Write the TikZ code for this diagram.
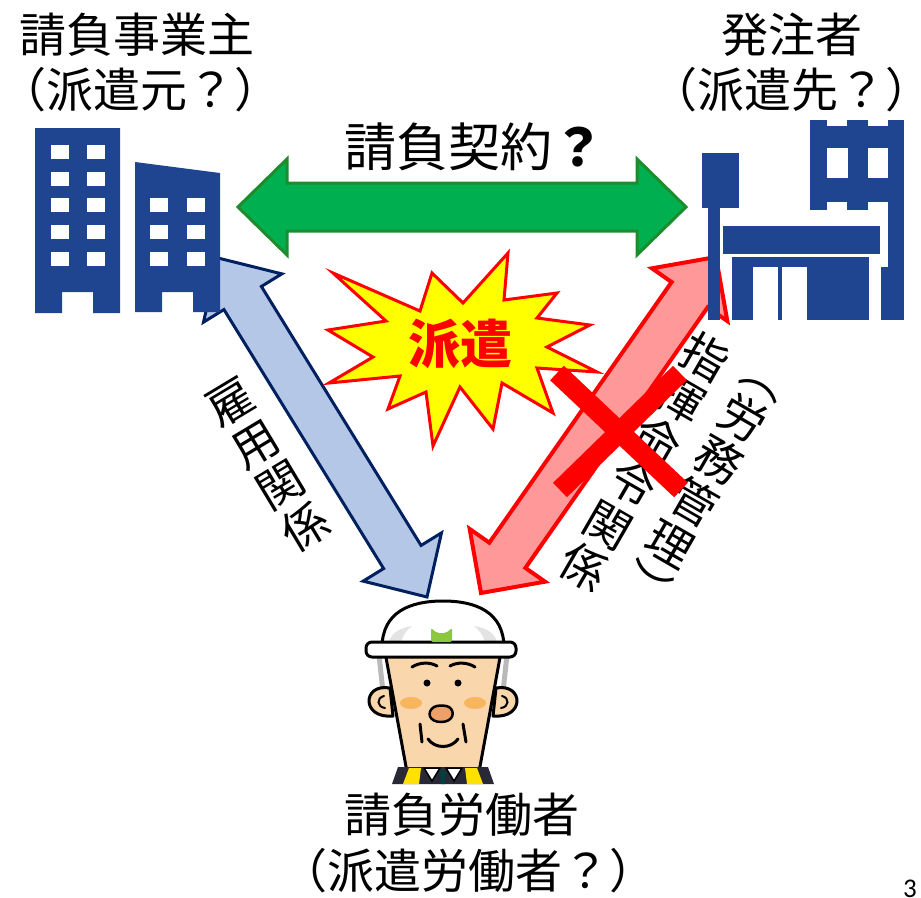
\documentclass[tikz,border=0pt]{standalone}
\usepackage{fontspec}
\usetikzlibrary{calc}
\newfontfamily\jp{Noto Sans CJK JP}
\newfontfamily\numfont{Carlito}

\definecolor{bldgblue}{RGB}{31,69,145}
\definecolor{arrowgreen}{RGB}{0,176,80}
\definecolor{arrowgreenline}{RGB}{30,140,45}
\definecolor{paleblue}{RGB}{180,199,231}
\definecolor{navyline}{RGB}{0,32,96}
\definecolor{palered}{RGB}{255,153,153}
\definecolor{burstyellow}{RGB}{255,255,0}
\definecolor{skin}{RGB}{250,214,172}
\definecolor{blush}{RGB}{246,168,60}
\definecolor{nosecol}{RGB}{238,160,105}
\definecolor{logogreen}{RGB}{141,198,63}
\definecolor{vest}{RGB}{255,225,0}
\definecolor{jacket}{RGB}{40,40,55}

% double block arrow between two named points:
% #1 style, #2 from, #3 to, #4 head length, #5 head half-width, #6 shaft half-width
\newcommand\blockarrow[6]{%
  \coordinate (ba-s) at ($(#2)!#4!(#3)$);
  \coordinate (ba-e) at ($(#3)!#4!(#2)$);
  \draw[#1] (#2)
    -- ($(ba-s)!#5!-90:(#3)$) -- ($(ba-s)!#6!-90:(#3)$)
    -- ($(ba-e)!#6!90:(#2)$) -- ($(ba-e)!#5!90:(#2)$)
    -- (#3)
    -- ($(ba-e)!#5!-90:(#2)$) -- ($(ba-e)!#6!-90:(#2)$)
    -- ($(ba-s)!#6!90:(#3)$) -- ($(ba-s)!#5!90:(#3)$)
    -- cycle;
}

\begin{document}
\begin{tikzpicture}[x=1pt,y=-1pt,
  bldg/.style={fill=bldgblue},
  win/.style={fill=white},
  label47/.style={font={\jp\fontsize{47}{55}\selectfont}, inner sep=0pt},
  vertlabel/.style={font={\jp\fontsize{46}{48.5}\selectfont}, align=center, inner sep=0pt},
  greenarrow/.style={fill=arrowgreen, draw=arrowgreenline, line width=3pt, line join=miter},
  bluearrow/.style={fill=paleblue, draw=navyline, line width=3pt, line join=miter},
  redarrow/.style={fill=palered, draw=red, line width=4pt, line join=miter},
  outl/.style={draw=black, line width=3pt, line join=round, line cap=round},
  ]
\useasboundingbox (0,0) rectangle (921,897);

% ---- arrow end points ----
\coordinate (conL) at (238,207);
\coordinate (conR) at (686,207);
\coordinate (empTop) at (218,258);
\coordinate (empBot) at (427,597);
\coordinate (cmdTop) at (716,257);
\coordinate (cmdBot) at (481,593);

% ---- relationship arrows ----
\blockarrow{greenarrow}{conL}{conR}{49pt}{48pt}{24pt}
\blockarrow{bluearrow}{empTop}{empBot}{47pt}{46pt}{22pt}
\blockarrow{redarrow}{cmdTop}{cmdBot}{46pt}{46pt}{22pt}

% ---- contractor office (two towers) ----
\fill[bldg] (35,128) -- (120,128) -- (120,313) -- (93,313) -- (93,292)
  -- (62,292) -- (62,313) -- (35,313) -- cycle;
\foreach \y in {145,172,198,225,252} {
  \fill[win] (51,\y) rectangle (69,\y+14);
  \fill[win] (87,\y) rectangle (105,\y+14);
}
\fill[bldg] (135,162) -- (220,173) -- (220,312) -- (193,312) -- (193,292)
  -- (162,292) -- (162,312) -- (135,312) -- cycle;
\foreach \y in {198,225,252} {
  \fill[win] (150,\y) rectangle (168,\y+14);
  \fill[win] (187,\y) rectangle (205,\y+14);
}

% ---- client site (shop with sign and tower) ----
\fill[bldg] (810,120) rectangle (904,210);
\fill[win] (827,120) rectangle (847,126);
\fill[win] (868,120) rectangle (888,126);
\fill[win] (827,202) rectangle (847,211);
\fill[win] (868,202) rectangle (888,211);
\fill[win] (827,148) rectangle (848,178);
\fill[win] (868,148) rectangle (888,178);
\fill[bldg] (888,209) rectangle (904,268);
\fill[bldg] (881,267) rectangle (904,320);
\fill[bldg] (702,153) rectangle (739,208);
\fill[bldg] (708,207) rectangle (720,320);
\fill[bldg] (723,226) rectangle (880,254);
\fill[bldg] (732,257) rectangle (869,320);
\fill[win] (753,267) rectangle (778,321);
\fill[win] (782,267) rectangle (807,321);

% ---- burst ----
\draw[fill=burstyellow, draw=red, line width=3pt, line join=miter]
  (333,273) -- (420,311) -- (432,273) -- (463,303) -- (508,253) -- (504,300)
  -- (557,293) -- (537,318) -- (590,325) -- (547,347) -- (597,372) -- (537,368)
  -- (553,413) -- (502,383) -- (493,429) -- (460,387) -- (433,446) -- (426,392)
  -- (388,409) -- (400,376) -- (329,383) -- (373,357) -- (328,330) -- (386,321)
  -- cycle;
\node[font={\jp\bfseries\fontsize{52}{60}\selectfont}, text=red, inner sep=0pt]
  (haken) at (460,344) {派遣};

% ---- titles ----
\node[label47] (empName) at (137,35) {請負事業主};
\node[label47] (empNote) at (140,90) {（派遣元？）};
\node[label47] (cliName) at (792,35) {発注者};
\node[label47] (cliNote) at (791,90) {（派遣先？）};
\node[font={\jp\fontsize{52}{60}\selectfont}, inner sep=0pt]
  (contract) at (474,147) {請負契約{\bfseries ？}};
\node[label47] (wkName) at (462,815) {請負労働者};
\node[label47] (wkNote) at (468,871) {（派遣労働者？）};

% ---- arrow labels (vertical writing) ----
\node[vertlabel, rotate=31] (empRel) at (268,465) {雇\\用\\関\\係};
\node[vertlabel, rotate=-30] (cmdRel) at (645,462) {指\\揮\\命\\令\\関\\係};
\node[vertlabel, rotate=-30] (labRel) at (700,492) {︵\\労\\務\\管\\理\\︶};

% ---- cross over the command arrow ----
\draw[red, line width=20pt] (557,373) -- (681,490);
\draw[red, line width=20pt] (560,490) -- (680,373);

% ---- worker ----
\draw[gray!55, line width=5pt] (379,655) -- (383,692);
\draw[gray!55, line width=5pt] (507,655) -- (503,692);
% ears
\draw[outl, fill=skin] (390,688) .. controls (362,683) and (361,719) .. (393,716) -- cycle;
\draw[outl, fill=skin] (496,688) .. controls (524,683) and (525,719) .. (493,716) -- cycle;
\draw[black, line width=2pt, line cap=round] (384,696) .. controls (376,698) and (377,707) .. (385,708);
\draw[black, line width=2pt, line cap=round] (502,696) .. controls (510,698) and (509,707) .. (501,708);
% face
\draw[outl, fill=skin] (385,652) -- (407,772) -- (479,772) -- (501,652) -- cycle;
% cheeks
\fill[blush, opacity=0.7] (411,703) ellipse [x radius=11pt, y radius=6pt];
\fill[blush, opacity=0.7] (475,703) ellipse [x radius=11pt, y radius=6pt];
% brows and eyes
\draw[outl] (412,667) .. controls (420,662) and (430,662) .. (437,666);
\draw[outl] (450,666) .. controls (457,662) and (467,662) .. (475,667);
\fill[black] (427,683) circle [radius=3.5pt];
\fill[black] (458,683) circle [radius=3.5pt];
% nose
\draw[fill=nosecol, draw=black, line width=2.5pt, line join=round]
  (434,707) .. controls (426,712) and (429,722) .. (441,722)
  .. controls (453,722) and (456,712) .. (449,707)
  .. controls (446,705) and (437,705) .. (434,707) -- cycle;
% cheek lines and smile
\draw[outl] (420,724) -- (422,742);
\draw[outl] (463,724) -- (466,742);
\draw[outl] (428,739) .. controls (435,749) and (451,749) .. (458,739);
% collar and vest
\fill[jacket] (392,784) -- (398,767) -- (488,767) -- (494,784) -- cycle;
\fill[vest] (403,784) -- (409,768) -- (421,768) -- (419,784) -- cycle;
\fill[vest] (467,784) -- (465,768) -- (477,768) -- (483,784) -- cycle;
\draw[fill=white, draw=black, line width=1.5pt] (424,768) -- (440,768) -- (432,781) -- cycle;
\draw[fill=white, draw=black, line width=1.5pt] (446,768) -- (462,768) -- (454,781) -- cycle;
\fill[teal!50!black] (440,771) -- (446,771) -- (445,784) -- (441,784) -- cycle;
% helmet
\begin{scope}
  \clip (382,648) .. controls (382,612) and (410,601) .. (443,601)
    .. controls (476,601) and (504,612) .. (504,648) -- cycle;
  \fill[white] (370,595) rectangle (516,650);
  \fill[gray!22] (388,648) .. controls (388,635) and (398,628) .. (412,626)
    .. controls (402,634) and (400,642) .. (402,648) -- cycle;
  \fill[gray!22] (498,648) .. controls (498,635) and (488,628) .. (474,626)
    .. controls (484,634) and (486,642) .. (484,648) -- cycle;
\end{scope}
\draw[outl] (382,648) .. controls (382,612) and (410,601) .. (443,601)
  .. controls (476,601) and (504,612) .. (504,648);
\draw[outl, fill=white, rounded corners=6pt] (366,642) rectangle (516,657);
\fill[logogreen, rounded corners=2pt] (431,642) -- (431,628) -- (437,633) -- (446,633)
  -- (452,628) -- (452,642) -- cycle;

% ---- page number ----
\node[font={\numfont\fontsize{27}{30}\selectfont}, anchor=base west, inner sep=0pt]
  (pg) at (903,897) {3};
\end{tikzpicture}
\end{document}
